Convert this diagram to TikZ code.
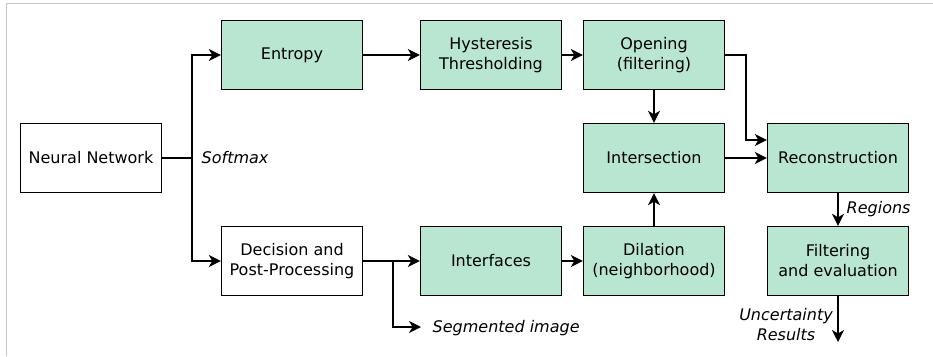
\documentclass[tikz,border=0pt]{standalone}
\usepackage{fontspec}
\setmainfont{DejaVu Sans}
\usepackage{tikz}
\usetikzlibrary{arrows.meta}
\usepackage{xcolor}
\definecolor{mint}{RGB}{184,230,208}

\begin{document}
\begin{tikzpicture}[x=1pt,y=-1pt,>={Stealth[length=12pt,width=12pt,inset=3.5pt]},
  font=\fontsize{16}{20}\selectfont,line width=1.4pt,
  blk/.style={draw,minimum width=141pt,minimum height=69pt,inner sep=0pt,align=center},
  gblk/.style={blk,fill=mint},
  lbl/.style={font=\fontsize{16}{20}\selectfont\itshape,inner sep=0pt}]
\useasboundingbox (0,0) rectangle (933,356);
\draw[gray!45,line width=1.3pt] (6.5,356) -- (6.5,3.5) -- (933,3.5);
% boxes
\node[blk] (net) at (91,158) {Neural Network};
\node[gblk] (entropy) at (292,55) {Entropy};
\node[blk] (decision) at (292,261) {Decision and\\Post-Processing};
\node[gblk] (hyst) at (491,55) {Hysteresis\\Thresholding};
\node[gblk] (opening) at (654,55) {Opening\\(filtering)};
\node[gblk] (inter) at (654,158) {Intersection};
\node[gblk] (faces) at (491,261) {Interfaces};
\node[gblk] (dilation) at (654,261) {Dilation\\(neighborhood)};
\node[gblk] (recon) at (838,158) {Reconstruction};
\node[gblk] (filter) at (838,261) {Filtering\\and evaluation};
% branch points
\coordinate (split) at (192,158);
\coordinate (dsplit) at (393,261);
\coordinate (osplit) at (746,55);
\coordinate (segout) at (421,327);
\coordinate (resout) at (838,342);
% connectors
\draw (net) -- (split);
\draw[->] (split) |- (entropy);
\draw[->] (split) |- (decision);
\node[lbl,anchor=west] (softmax) at (201,158) {Softmax};
\draw[->] (entropy) -- (hyst);
\draw[->] (hyst) -- (opening);
\draw[->] (opening) -- (inter);
\draw[->] (opening.east) -- (osplit) |- ([yshift=18pt]recon.west);
\draw[->] (inter) -- (recon);
\draw[->] (dilation) -- (inter);
\draw (decision) -- (dsplit);
\draw[->] (dsplit) -- (faces);
\draw[->] (dsplit) |- (segout);
\node[lbl,anchor=west] (seg) at (432,328) {Segmented image};
\draw[->] (faces) -- (dilation);
\draw[->] (recon) -- (filter) node[lbl,midway,right=8pt] (regions) {Regions};
\draw[->] (filter) -- (resout);
\node[lbl,align=center] (uncert) at (786,325) {Uncertainty\\Results};
\end{tikzpicture}
\end{document}
